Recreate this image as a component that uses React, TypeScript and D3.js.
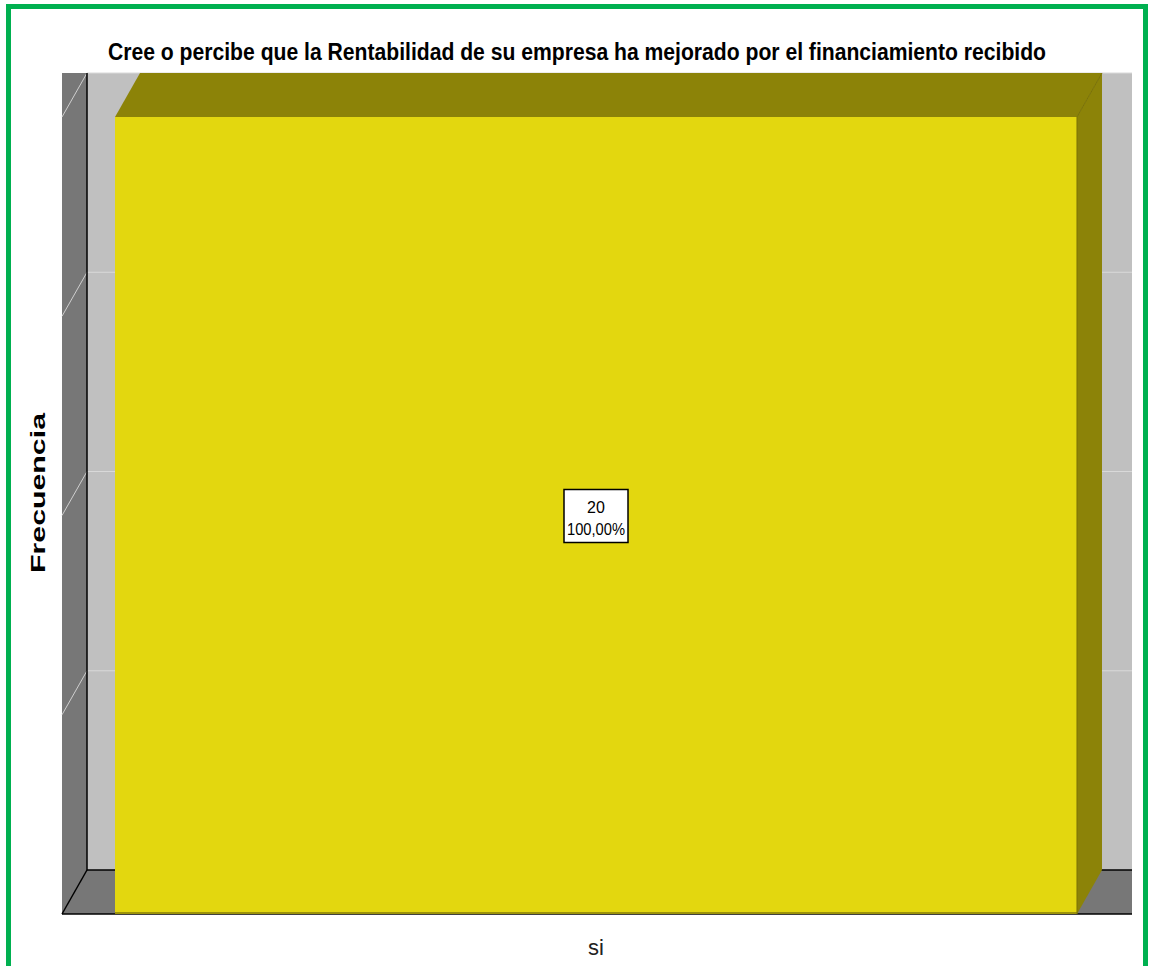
import React from "react";
import * as d3 from "d3";

const categories = ["si"];
const frequencies = [20];
const yTicks = [0, 5, 10, 15, 20];

const W = 1149;
const H = 966;
const depth = { dx: 25, dy: -44 };

const App: React.FC = () => {
  const total = d3.sum(frequencies);

  const xScale = d3
    .scaleBand<string>()
    .domain(categories)
    .range([62, 1130])
    .paddingInner(0)
    .paddingOuter(0.0551);

  const yScale = d3.scaleLinear().domain([0, 20]).range([914, 117]);

  const front = { x0: 62, y0: yScale(0), y1: yScale(20) };
  const back = {
    x0: front.x0 + depth.dx,
    x1: 1132,
    y0: front.y0 + depth.dy,
    y1: front.y1 + depth.dy,
  };

  const pts = (p: [number, number][]) => p.map((d) => d.join(",")).join(" ");
  const pctFmt = (v: number) =>
    d3.format(".2f")(v * 100).replace(".", ",") + "%";

  return (
    <svg
      width={W}
      height={H}
      style={{ position: "absolute", left: 0, top: 0, background: "#fff" }}
    >
      {/* back wall */}
      <rect
        x={back.x0}
        y={back.y1}
        width={back.x1 - back.x0}
        height={back.y0 - back.y1}
        fill="#c0c0c0"
      />
      {/* left wall */}
      <rect
        x={front.x0}
        y={back.y1}
        width={depth.dx}
        height={front.y0 - back.y1}
        fill="#777777"
      />
      {/* floor */}
      <polygon
        points={pts([
          [front.x0, front.y0],
          [back.x0, back.y0],
          [back.x1, back.y0],
          [back.x1, front.y0],
        ])}
        fill="#777777"
      />
      {/* gridlines */}
      {yTicks.map((t) => {
        const yb = yScale(t) + depth.dy;
        return (
          <g key={t}>
            <line
              x1={back.x0}
              x2={back.x1}
              y1={yb}
              y2={yb}
              stroke={t === 0 ? "#000" : "#d9d9d9"}
              strokeWidth={t === 0 ? 1.5 : 1}
            />
            {t !== 0 && (
              <line
                x1={back.x0}
                y1={yb}
                x2={front.x0}
                y2={yScale(t)}
                stroke="#cfcfcf"
                strokeWidth={1}
              />
            )}
          </g>
        );
      })}
      {/* wall edges */}
      <line x1={back.x0} x2={back.x0} y1={back.y1} y2={back.y0} stroke="#000" strokeWidth={1.5} />
      <line x1={back.x0} y1={back.y0} x2={front.x0} y2={front.y0} stroke="#000" strokeWidth={1.5} />
      <line x1={front.x0} x2={back.x1} y1={front.y0} y2={front.y0} stroke="#000" strokeWidth={1.5} />

      {/* bars */}
      {categories.map((c, i) => {
        const x0 = xScale(c) as number;
        const x1 = x0 + xScale.bandwidth();
        const yT = yScale(frequencies[i]);
        const yB = yScale(0);
        const { dx, dy } = depth;
        const cx = (x0 + x1) / 2;
        const cy = (yT + yB) / 2;
        return (
          <g key={c}>
            <polygon
              points={pts([
                [x0, yT],
                [x0 + dx, yT + dy],
                [x1 + dx, yT + dy],
                [x1, yT],
              ])}
              fill="#8c8308"
            />
            <polygon
              points={pts([
                [x1, yT],
                [x1 + dx, yT + dy],
                [x1 + dx, yB + dy],
                [x1, yB],
              ])}
              fill="#8c8308"
            />
            <line x1={x1} y1={yT} x2={x1 + dx} y2={yT + dy} stroke="#7a7206" strokeWidth={1} />
            <rect x={x0} y={yT} width={x1 - x0} height={yB - yT} fill="#e3d70f" />
            <line x1={x0} x2={x1} y1={yB - 1} y2={yB - 1} stroke="#9c930a" strokeWidth={2} />
            <line x1={x1} x2={x1} y1={yT} y2={yB} stroke="#7a7206" strokeWidth={1} />
            <rect
              x={cx - 32}
              y={cy - 26}
              width={64}
              height={53}
              fill="#fff"
              stroke="#000"
              strokeWidth={1.5}
            />
            <text
              x={cx}
              y={cy - 3}
              textAnchor="middle"
              fontFamily="'Liberation Sans Narrow', 'Liberation Sans', Arial, sans-serif"
              fontSize={16}
              fill="#000"
            >
              {frequencies[i]}
            </text>
            <text
              x={cx}
              y={cy + 19}
              textAnchor="middle"
              fontFamily="'Liberation Sans Narrow', 'Liberation Sans', Arial, sans-serif"
              fontSize={16}
              textLength={58}
              lengthAdjust="spacingAndGlyphs"
              fill="#000"
            >
              {pctFmt(frequencies[i] / total)}
            </text>
            <text
              x={cx}
              y={955}
              textAnchor="middle"
              fontFamily="'Liberation Sans Narrow', 'Liberation Sans', Arial, sans-serif"
              fontSize={22}
              fill="#222"
            >
              {c}
            </text>
          </g>
        );
      })}

      {/* title */}
      <text
        x={577}
        y={60}
        textAnchor="middle"
        fontFamily="'Liberation Sans Narrow', 'Liberation Sans', Arial, sans-serif"
        fontWeight="bold"
        fontSize={23}
        textLength={938}
        lengthAdjust="spacingAndGlyphs"
        fill="#000"
      >
        Cree o percibe que la Rentabilidad de su empresa ha mejorado por el financiamiento recibido
      </text>

      {/* y axis title */}
      <text
        transform="translate(45,493) rotate(-90)"
        textAnchor="middle"
        fontFamily="'Liberation Sans', Arial, sans-serif"
        fontWeight="bold"
        fontSize={21}
        textLength={160}
        lengthAdjust="spacingAndGlyphs"
        fill="#000"
      >
        Frecuencia
      </text>

      {/* green frame */}
      <rect
        x={8.5}
        y={6.5}
        width={1137}
        height={975}
        fill="none"
        stroke="#00b050"
        strokeWidth={5}
      />
    </svg>
  );
};

export default App;
